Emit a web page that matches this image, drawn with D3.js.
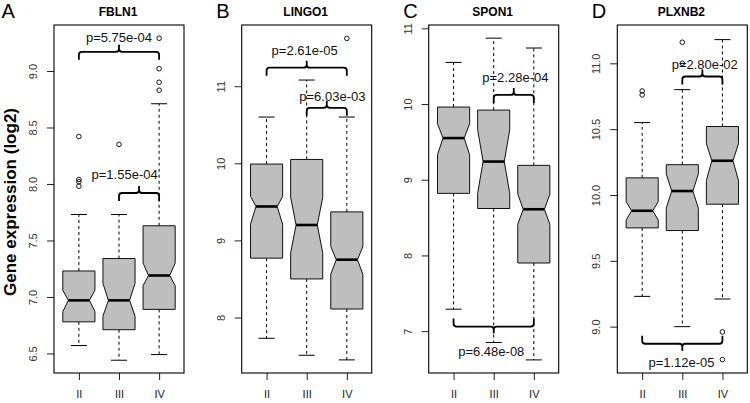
<!DOCTYPE html>
<html>
<head>
<meta charset="utf-8">
<script src="https://cdn.jsdelivr.net/npm/d3@7"></script>
<style>
body { margin: 0; background: #fff; }
svg { display: block; font-family: "Liberation Sans", Arial, sans-serif; }
</style>
</head>
<body>
<script>
const groups = ["II", "III", "IV"]
const genes = ["FBLN1", "LINGO1", "SPON1", "PLXNB2"]
const letters = ["A", "B", "C", "D"]

// per group: [lower whisker, Q1, notch low, median, notch high, Q3, upper whisker]
const fbln1 = [[6.57, 6.78, 6.87, 6.97, 7.06, 7.23, 7.73], [6.44, 6.71, 6.83, 6.97, 7.12, 7.34, 7.73], [6.49, 6.89, 7.10, 7.19, 7.30, 7.63, 8.71]]
const lingo1 = [[7.73, 8.77, 9.21, 9.44, 9.57, 9.99, 10.60], [7.51, 8.50, 8.84, 9.20, 9.56, 10.05, 11.08], [7.45, 8.11, 8.56, 8.75, 8.92, 9.37, 10.60]]
const spon1 = [[7.29, 8.82, 9.33, 9.55, 9.74, 9.96, 10.55], [6.85, 8.62, 8.82, 9.24, 9.66, 9.92, 10.87], [6.62, 7.90, 8.41, 8.61, 8.81, 9.19, 10.74]]
const plxnb2 = [[9.23, 9.75, 9.81, 9.88, 9.95, 10.13, 10.55], [9.00, 9.73, 9.90, 10.03, 10.16, 10.23, 10.80], [9.21, 9.93, 10.11, 10.26, 10.39, 10.52, 11.18]]

const fbln1Out = [[8.42, 8.04, 8.02, 7.98], [8.35], [8.83, 8.90, 9.02, 9.29]]
const lingo1Out = [[], [], [11.62]]
const spon1Out = [[], [], []]
const plxnb2Out = [[10.79, 10.76], [11.16, 11.00], [8.96, 8.75]]

// y axis range and ticks
const fbln1Dom = [6.327, 9.407], fbln1Ticks = [6.5, 7, 7.5, 8, 8.5, 9]
const lingo1Dom = [7.28, 11.794], lingo1Ticks = [8, 9, 10, 11]
const spon1Dom = [6.447, 11.044], spon1Ticks = [7, 8, 9, 10, 11]
const plxnb2Dom = [8.648, 11.291], plxnb2Ticks = [9, 9.5, 10, 10.5, 11]

// brackets: [from group, to group, bar value, label x (group units), label value, text, opens upward]
const fbln1Br = [[1, 3, 9.17, 2.0, 9.26, "p=5.75e-04", false], [2, 3, 7.92, 2.14, 8.04, "p=1.55e-04", false]]
const lingo1Br = [[1, 3, 11.24, 1.95, 11.40, "p=2.61e-05", false], [2, 3, 10.72, 2.64, 10.81, "p=6.03e-03", false]]
const spon1Br = [[2, 3, 10.12, 2.54, 10.29, "p=2.28e-04", false], [1, 3, 7.06, 1.94, 6.67, "p=6.48e-08", true]]
const plxnb2Br = [[2, 3, 10.90, 2.56, 10.96, "p=2.80e-02", false], [1, 3, 8.87, 1.98, 8.69, "p=1.12e-05", true]]

const panels = [
  {stats: fbln1, out: fbln1Out, dom: fbln1Dom, ticks: fbln1Ticks, br: fbln1Br, fmt: d3.format(".1f"), left: 54},
  {stats: lingo1, out: lingo1Out, dom: lingo1Dom, ticks: lingo1Ticks, br: lingo1Br, fmt: d3.format("d"), left: 241.7},
  {stats: spon1, out: spon1Out, dom: spon1Dom, ticks: spon1Ticks, br: spon1Br, fmt: d3.format("d"), left: 428.7},
  {stats: plxnb2, out: plxnb2Out, dom: plxnb2Dom, ticks: plxnb2Ticks, br: plxnb2Br, fmt: d3.format(".1f"), left: 617.3}
]

const W = 750, H = 403
const plotTop = 25, plotBottom = 373, pw = 130
const notchFrac = 0.66

const svg = d3.select("body").append("svg").attr("width", W).attr("height", H)

svg.append("text")
  .attr("transform", "translate(16," + 202 + ") rotate(-90)")
  .attr("text-anchor", "middle")
  .style("font-size", "17px").style("font-weight", "bold")
  .text("Gene expression (log2)")

panels.forEach((p, k) => {
  const x = d3.scaleLinear().domain([0.38, 3.62]).range([p.left, p.left + pw])
  const y = d3.scaleLinear().domain(p.dom).range([plotBottom, plotTop])
  const g = svg.append("g")
  const hw = x(1.4) - x(1)
  const cap = x(1.2) - x(1)

  // letter + title
  g.append("text").attr("x", k === 0 ? 1.5 : p.left - 25.5).attr("y", 17.5)
    .style("font-size", "20px").text(letters[k])
  g.append("text").attr("x", x(2) - 1).attr("y", 16).attr("text-anchor", "middle")
    .style("font-size", "12px").style("font-weight", "bold").text(genes[k])

  // y axis
  const ya = g.append("g").attr("transform", "translate(" + p.left + ",0)")
    .call(d3.axisLeft(y).tickValues(p.ticks).tickFormat(p.fmt).tickSize(7))
  ya.select(".domain").remove()
  ya.selectAll("line").attr("stroke", "#222")
  ya.selectAll("text")
    .attr("x", null).attr("dy", null)
    .attr("transform", "translate(-17,0) rotate(-90)")
    .attr("text-anchor", "middle")
    .attr("fill", "#333")
    .style("font-size", "11px").style("font-family", "\"Liberation Sans\", Arial, sans-serif")

  // x axis
  const xa = g.append("g").attr("transform", "translate(0," + plotBottom + ")")
    .call(d3.axisBottom(x).tickValues([1, 2, 3]).tickFormat((d, i) => groups[i]).tickSize(7).tickPadding(10))
  xa.select(".domain").remove()
  xa.selectAll("line").attr("stroke", "#222")
  xa.selectAll("text").attr("fill", "#222")
    .style("font-size", "11px").style("font-family", "\"Liberation Sans\", Arial, sans-serif")

  // boxes
  p.stats.forEach((s, i) => {
    const cx = x(i + 1)
    const [wl, q1, nl, med, nh, q3, wh] = s
    const bg = g.append("g")
    bg.append("line").attr("x1", cx).attr("x2", cx).attr("y1", y(q3)).attr("y2", y(wh))
      .attr("stroke", "#000").attr("stroke-dasharray", "3,3")
    bg.append("line").attr("x1", cx).attr("x2", cx).attr("y1", y(q1)).attr("y2", y(wl))
      .attr("stroke", "#000").attr("stroke-dasharray", "3,3")
    bg.append("line").attr("x1", cx - cap).attr("x2", cx + cap).attr("y1", y(wh)).attr("y2", y(wh)).attr("stroke", "#000")
    bg.append("line").attr("x1", cx - cap).attr("x2", cx + cap).attr("y1", y(wl)).attr("y2", y(wl)).attr("stroke", "#000")
    const nw = hw * notchFrac
    const pts = [
      [cx - hw, y(q1)], [cx + hw, y(q1)], [cx + hw, y(nl)], [cx + nw, y(med)], [cx + hw, y(nh)],
      [cx + hw, y(q3)], [cx - hw, y(q3)], [cx - hw, y(nh)], [cx - nw, y(med)], [cx - hw, y(nl)]
    ]
    bg.append("path").attr("d", d3.line()(pts) + "Z")
      .attr("fill", "#bebebe").attr("stroke", "#111").attr("stroke-width", 1)
    bg.append("line").attr("x1", cx - nw).attr("x2", cx + nw).attr("y1", y(med)).attr("y2", y(med))
      .attr("stroke", "#000").attr("stroke-width", 2.6)
    bg.selectAll("circle").data(p.out[i]).enter().append("circle")
      .attr("cx", cx).attr("cy", d => y(d)).attr("r", 2.3)
      .attr("fill", "none").attr("stroke", "#000").attr("stroke-width", 0.9)
  })

  // plot frame
  g.append("rect").attr("x", p.left).attr("y", plotTop).attr("width", pw).attr("height", plotBottom - plotTop)
    .attr("fill", "none").attr("stroke", "#000").attr("stroke-width", 1.1)

  // significance brackets
  p.br.forEach(b => {
    const [a, c, v, lx, lv, txt, up] = b
    const x1 = x(a), x2 = x(c), xm = (x1 + x2) / 2, yy = y(v)
    const s = up ? -1 : 1
    const arm = 8, tick = 7, r = 3
    const path = d3.path()
    path.moveTo(x1, yy + s * arm)
    path.lineTo(x1, yy + s * r)
    path.quadraticCurveTo(x1, yy, x1 + r, yy)
    path.lineTo(xm - r, yy)
    path.quadraticCurveTo(xm, yy, xm, yy - s * r)
    path.lineTo(xm, yy - s * tick)
    path.moveTo(xm, yy - s * r)
    path.quadraticCurveTo(xm, yy, xm + r, yy)
    path.lineTo(x2 - r, yy)
    path.quadraticCurveTo(x2, yy, x2, yy + s * r)
    path.lineTo(x2, yy + s * arm)
    g.append("path").attr("d", path.toString()).attr("fill", "none")
      .attr("stroke", "#000").attr("stroke-width", 1.8)
    g.append("text").attr("x", x(lx)).attr("y", y(lv)).attr("text-anchor", "middle")
      .style("font-size", "13px").attr("fill", "#111").text(txt)
  })
})
</script>
</body>
</html>
